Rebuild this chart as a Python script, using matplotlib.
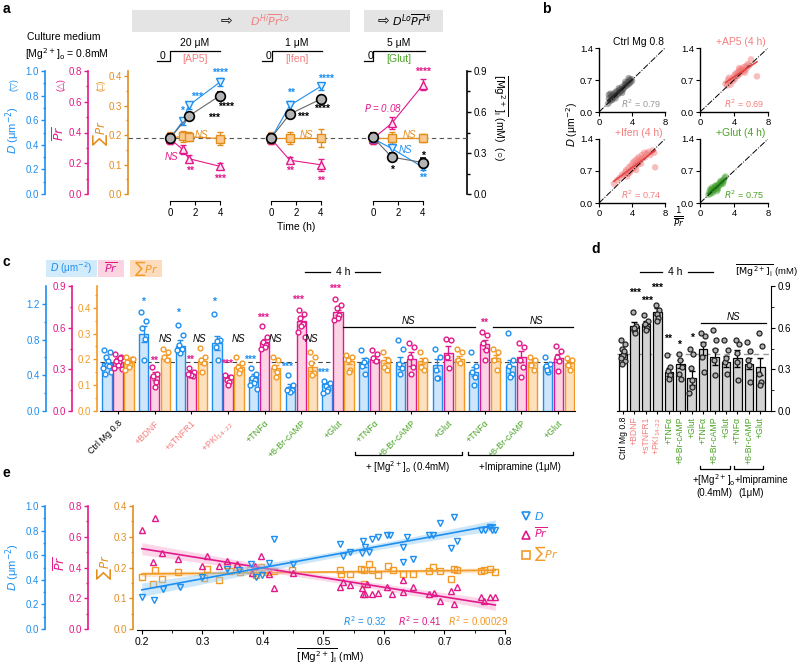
import numpy as np
import matplotlib
matplotlib.use('Agg')
import matplotlib.pyplot as plt
from matplotlib.lines import Line2D
from matplotlib.patches import Rectangle

plt.rcParams['font.family'] = ['Liberation Sans', 'DejaVu Sans']
plt.rcParams['mathtext.fontset'] = 'dejavusans'

W, H = 800, 666
BLUE = '#1e8ff0'
MAG = '#e2198a'
ORA = '#e38d1c'
ORA_C = '#f39a26'
SALMON = '#f47f7f'
GREEN = '#4aa325'

# ---------------- panel a data ----------------
ap5_t = [0, 1, 1.5, 4]
ap5_D = [0.45, 0.59, 0.72, 0.91]
ap5_D_err = [0.03, 0.03, 0.03, 0.03]
ap5_Pr = [0.36, 0.29, 0.23, 0.18]
ap5_Pr_err = [0.035, 0.03, 0.025, 0.02]
ap5_S = [0.19, 0.195, 0.194, 0.188]
ap5_S_err = [0.02, 0.02, 0.015, 0.022]
ap5_Mg_t = [0, 1.5, 4]
ap5_Mg = [0.41, 0.57, 0.72]
ap5_Mg_err = [0.03, 0.02, 0.025]

t3 = [0, 1.5, 4]
ifen_D = [0.45, 0.72, 0.876]
ifen_D_err = [0.03, 0.04, 0.03]
ifen_Pr = [0.36, 0.22, 0.19]
ifen_Pr_err = [0.035, 0.02, 0.04]
ifen_S = [0.19, 0.19, 0.19]
ifen_S_err = [0.02, 0.02, 0.03]
ifen_Mg = [0.41, 0.585, 0.695]
ifen_Mg_err = [0.03, 0.025, 0.025]

glut_D = [0.45, 0.37, 0.217]
glut_D_err = [0.03, 0.04, 0.02]
glut_Pr = [0.36, 0.46, 0.71]
glut_Pr_err = [0.035, 0.04, 0.035]
glut_S = [0.19, 0.19, 0.19]
glut_S_err = [0.02, 0.02, 0.015]
glut_Mg = [0.415, 0.27, 0.23]
glut_Mg_err = [0.03, 0.03, 0.03]

# ---------------- panel b data ----------------
ctrl_x = [1.1, 1.2, 1.3, 1.4, 1.5, 1.5, 1.6, 1.7, 1.8, 1.9, 2.0, 2.1, 2.2, 2.3, 2.4, 2.5, 2.6, 2.7, 2.8,
          2.9, 3.0, 3.1, 3.2, 3.3, 3.4, 3.5, 3.6, 3.7, 3.8, 3.9, 1.2, 1.6, 2.0, 2.4, 2.8, 3.2, 3.6, 4.0]
ctrl_y = [0.18, 0.30, 0.24, 0.40, 0.28, 0.35, 0.31, 0.38, 0.33, 0.42, 0.36, 0.45, 0.40, 0.38, 0.47, 0.43,
          0.50, 0.46, 0.55, 0.49, 0.52, 0.60, 0.56, 0.62, 0.58, 0.66, 0.61, 0.70, 0.64, 0.72, 0.38, 0.26,
          0.30, 0.52, 0.42, 0.66, 0.74, 0.68]
ap5b_x = [3.0, 3.2, 3.3, 3.5, 3.6, 3.8, 3.9, 4.0, 4.1, 4.2, 4.3, 4.4, 4.5, 4.6, 4.7, 4.8, 4.9, 5.0, 5.1,
          5.2, 5.4, 5.5, 5.6, 5.8, 6.0, 6.7, 3.4, 4.6, 5.3]
ap5b_y = [0.62, 0.58, 0.70, 0.66, 0.60, 0.74, 0.68, 0.80, 0.72, 0.84, 0.78, 0.86, 0.80, 0.90, 0.84, 0.94,
          0.88, 0.92, 0.98, 0.90, 1.00, 0.95, 1.05, 1.02, 1.15, 0.78, 0.75, 0.96, 0.86]
ifenb_x = [1.8, 2.2, 2.5, 2.8, 3.0, 3.2, 3.3, 3.5, 3.6, 3.8, 3.9, 4.0, 4.1, 4.2, 4.3, 4.4, 4.5, 4.6, 4.7,
           4.8, 4.9, 5.0, 5.2, 5.3, 5.5, 5.6, 5.8, 6.0, 6.2, 6.5, 6.7, 6.8, 3.4, 3.7, 4.5, 5.1]
ifenb_y = [0.42, 0.50, 0.55, 0.62, 0.60, 0.68, 0.72, 0.64, 0.78, 0.70, 0.82, 0.74, 0.88, 0.76, 0.92, 0.80,
           0.86, 0.96, 0.84, 1.00, 0.90, 0.94, 1.05, 0.98, 1.10, 1.00, 1.08, 1.12, 1.05, 1.15, 1.10, 0.78,
           0.58, 0.66, 0.72, 0.86]
glutb_x = [1.0, 1.1, 1.2, 1.3, 1.4, 1.5, 1.6, 1.7, 1.8, 1.9, 2.0, 2.1, 2.2, 2.3, 2.4, 2.5, 2.6, 2.7, 2.8,
           2.9, 1.2, 1.5, 1.8, 2.1, 2.4, 2.7, 3.0, 1.4, 2.0]
glutb_y = [0.18, 0.24, 0.20, 0.28, 0.25, 0.30, 0.27, 0.34, 0.30, 0.37, 0.33, 0.40, 0.36, 0.43, 0.40, 0.46,
           0.44, 0.50, 0.48, 0.55, 0.30, 0.22, 0.38, 0.30, 0.48, 0.42, 0.58, 0.34, 0.26]

# ---------------- panel c data ----------------
c_labels = ['Ctrl Mg 0.8', '+BDNF', '+sTNFR1', '+PKI$_{14\u201022}$', '+TNF\u03b1', '+8-Br-cAMP', '+Glut',
            '+TNF\u03b1', '+8-Br-cAMP', '+Glut', '+TNF\u03b1', '+8-Br-cAMP', '+Glut']
c_colors = ['black', SALMON, SALMON, SALMON] + [GREEN] * 9
c_D = [0.54, 0.86, 0.73, 0.76, 0.38, 0.27, 0.30, 0.54, 0.54, 0.515, 0.44, 0.50, 0.50]
c_D_err = [0.03, 0.09, 0.06, 0.08, 0.03, 0.03, 0.02, 0.05, 0.07, 0.07, 0.05, 0.07, 0.03]
c_Pr = [0.35, 0.25, 0.27, 0.247, 0.50, 0.65, 0.71, 0.374, 0.374, 0.415, 0.48, 0.39, 0.38]
c_Pr_err = [0.015, 0.03, 0.015, 0.015, 0.02, 0.03, 0.02, 0.02, 0.05, 0.05, 0.03, 0.04, 0.03]
c_S = [0.189, 0.206, 0.195, 0.171, 0.165, 0.169, 0.195, 0.197, 0.195, 0.20, 0.204, 0.19, 0.184]
c_S_err = [0.008, 0.012, 0.012, 0.01, 0.012, 0.015, 0.012, 0.012, 0.012, 0.012, 0.012, 0.01, 0.01]
c_D_pts = [[0.68, 0.66, 0.60, 0.56, 0.52, 0.48, 0.44, 0.41, 0.50],
           [1.11, 1.01, 0.93, 0.81, 0.57],
           [0.96, 0.85, 0.74, 0.70, 0.65, 0.68],
           [1.09, 0.80, 0.72, 0.57, 0.78],
           [0.48, 0.42, 0.37, 0.35, 0.31, 0.29, 0.25],
           [0.40, 0.29, 0.25, 0.235, 0.216, 0.24],
           [0.336, 0.31, 0.28, 0.25, 0.227, 0.198],
           [0.68, 0.57, 0.50, 0.42, 0.55],
           [0.80, 0.70, 0.53, 0.48, 0.42],
           [0.70, 0.61, 0.46, 0.37, 0.37],
           [0.66, 0.50, 0.44, 0.38, 0.29],
           [0.87, 0.57, 0.50, 0.42, 0.38],
           [0.61, 0.53, 0.50, 0.44, 0.46]]
c_Pr_pts = [[0.41, 0.39, 0.37, 0.35, 0.33, 0.31, 0.30, 0.36, 0.38],
            [0.32, 0.27, 0.25, 0.21, 0.175],
            [0.31, 0.28, 0.26, 0.25, 0.26, 0.27],
            [0.26, 0.245, 0.22, 0.21, 0.19],
            [0.61, 0.535, 0.50, 0.475, 0.46, 0.45],
            [0.73, 0.70, 0.67, 0.63, 0.61, 0.57, 0.535],
            [0.81, 0.76, 0.74, 0.69, 0.67, 0.655],
            [0.44, 0.41, 0.38, 0.36],
            [0.49, 0.46, 0.39, 0.32, 0.27],
            [0.52, 0.51, 0.39, 0.31],
            [0.57, 0.55, 0.49, 0.44, 0.37],
            [0.49, 0.46, 0.37, 0.32, 0.245],
            [0.47, 0.43, 0.39, 0.36, 0.29]]
c_S_pts = [[0.21, 0.20, 0.19, 0.18, 0.17, 0.16, 0.20, 0.19],
           [0.24, 0.23, 0.21, 0.197],
           [0.243, 0.208, 0.197, 0.185, 0.152],
           [0.21, 0.185, 0.172, 0.159, 0.146],
           [0.21, 0.197, 0.172, 0.152, 0.133],
           [0.227, 0.21, 0.185, 0.146, 0.139],
           [0.217, 0.21, 0.197, 0.159, 0.152],
           [0.23, 0.197, 0.172, 0.159],
           [0.227, 0.197, 0.172, 0.159],
           [0.24, 0.227, 0.197, 0.185],
           [0.24, 0.227, 0.197, 0.159],
           [0.21, 0.197, 0.178, 0.159],
           [0.204, 0.197, 0.178, 0.159]]

# ---------------- panel d data ----------------
d_labels = ['Ctrl Mg 0.8', '+BDNF', '+sTNFR1', '+PKI$_{14\u201022}$', '+TNF\u03b1', '+8-Br-cAMP', '+Glut',
            '+TNF\u03b1', '+8-Br-cAMP', '+Glut', '+TNF\u03b1', '+8-Br-cAMP', '+Glut']
d_Mg = [0.41, 0.61, 0.625, 0.716, 0.28, 0.34, 0.24, 0.45, 0.39, 0.355, 0.38, 0.34, 0.32]
d_Mg_err = [0.02, 0.03, 0.02, 0.025, 0.03, 0.03, 0.05, 0.05, 0.06, 0.04, 0.06, 0.04, 0.06]
d_pts = [[0.51, 0.48, 0.45, 0.42, 0.40, 0.38, 0.36, 0.34, 0.43],
         [0.716, 0.61, 0.58, 0.56, 0.60],
         [0.69, 0.65, 0.63, 0.60, 0.58],
         [0.76, 0.73, 0.70, 0.67, 0.65],
         [0.40, 0.32, 0.29, 0.26, 0.23],
         [0.41, 0.32, 0.27, 0.23, 0.37],
         [0.45, 0.41, 0.31, 0.22, 0.17, 0.13],
         [0.56, 0.54, 0.39, 0.28, 0.48],
         [0.58, 0.51, 0.37, 0.26, 0.44],
         [0.51, 0.44, 0.35, 0.27, 0.38],
         [0.51, 0.48, 0.35, 0.22, 0.42],
         [0.50, 0.43, 0.37, 0.21, 0.33],
         [0.56, 0.47, 0.27, 0.21, 0.19]]

# ---------------- panel e data ----------------
e_D_x = [0.20, 0.22, 0.235, 0.263, 0.30, 0.34, 0.36, 0.38, 0.389, 0.398, 0.41, 0.419, 0.45, 0.528, 0.532,
         0.544, 0.564, 0.566, 0.568, 0.575, 0.58, 0.59, 0.605, 0.61, 0.632, 0.632, 0.638, 0.648, 0.674,
         0.681, 0.692, 0.711, 0.715, 0.72, 0.76, 0.767, 0.775, 0.778, 0.784]
e_D_y = [0.27, 0.24, 0.33, 0.35, 0.43, 0.49, 0.48, 0.535, 0.43, 0.44, 0.54, 0.73, 0.53, 0.69, 0.60, 0.63,
         0.62, 0.72, 0.67, 0.63, 0.73, 0.75, 0.77, 0.765, 0.67, 0.55, 0.75, 0.575, 0.765, 0.77, 0.86,
         0.665, 0.91, 0.72, 0.805, 0.81, 0.83, 0.81, 0.805]
e_Pr_x = [0.20, 0.222, 0.218, 0.233, 0.26, 0.307, 0.30, 0.327, 0.34, 0.357, 0.382, 0.387, 0.397, 0.41,
          0.419, 0.45, 0.528, 0.532, 0.544, 0.564, 0.565, 0.569, 0.572, 0.58, 0.59, 0.605, 0.613, 0.632,
          0.648, 0.632, 0.674, 0.682, 0.692, 0.711, 0.716, 0.72, 0.76, 0.766, 0.775, 0.784]
e_Pr_y = [0.644, 0.72, 0.44, 0.50, 0.46, 0.475, 0.41, 0.41, 0.445, 0.424, 0.37, 0.41, 0.48, 0.36, 0.27,
          0.37, 0.28, 0.31, 0.29, 0.27, 0.23, 0.23, 0.30, 0.23, 0.24, 0.28, 0.23, 0.32, 0.28, 0.244, 0.23,
          0.24, 0.19, 0.25, 0.17, 0.28, 0.21, 0.19, 0.21, 0.21]
e_S_x = [0.20, 0.218, 0.222, 0.233, 0.26, 0.303, 0.307, 0.327, 0.34, 0.346, 0.357, 0.362, 0.379, 0.384,
         0.389, 0.397, 0.401, 0.407, 0.419, 0.448, 0.527, 0.529, 0.544, 0.562, 0.567, 0.567, 0.575, 0.58,
         0.591, 0.606, 0.615, 0.632, 0.648, 0.674, 0.681, 0.692, 0.711, 0.716, 0.72, 0.76, 0.766, 0.775,
         0.784]
e_S_y = [0.171, 0.147, 0.192, 0.165, 0.187, 0.169, 0.198, 0.162, 0.209, 0.19, 0.203, 0.187, 0.192, 0.184,
         0.176, 0.203, 0.192, 0.187, 0.19, 0.195, 0.192, 0.182, 0.182, 0.198, 0.192, 0.149, 0.212, 0.192,
         0.176, 0.208, 0.192, 0.182, 0.18, 0.19, 0.203, 0.19, 0.165, 0.198, 0.192, 0.19, 0.192, 0.198, 0.187]


fig = plt.figure(figsize=(W / 100, H / 100), dpi=100)


def pax(x0, y0, x1, y1):
    # axes placed in pixel coords measured from the top-left corner
    return fig.add_axes([x0 / W, 1 - y1 / H, (x1 - x0) / W, (y1 - y0) / H])


def layer(rect, ylim, xlim):
    ax = pax(*rect)
    ax.set_xlim(*xlim)
    ax.set_ylim(*ylim)
    ax.axis('off')
    return ax


def yspine(x, y0, y1, top, ticks, color, minor=None, side='left', fmt='%.1f', size=7):
    ax = pax(x, y0, x + 1, y1) if side == 'left' else pax(x - 1, y0, x, y1)
    ax.set_ylim(0, top)
    ax.patch.set_visible(False)
    for s in ax.spines.values():
        s.set_visible(False)
    ax.spines[side].set_visible(True)
    ax.spines[side].set_color(color)
    ax.spines[side].set_linewidth(1.2)
    ax.set_xticks([])
    if side == 'right':
        ax.yaxis.tick_right()
    ax.set_yticks(ticks)
    ax.set_yticklabels([fmt % t for t in ticks])
    if minor is not None:
        ax.set_yticks(minor, minor=True)
    ax.tick_params(axis='y', which='both', colors=color, labelsize=size, length=3, width=1, pad=1.5)
    ax.tick_params(axis='y', which='minor', length=1.8)
    return ax


def txt(x, y, s, **kw):
    kw.setdefault('fontsize', 7)
    kw.setdefault('ha', 'center')
    kw.setdefault('va', 'center')
    return fig.text(x / W, 1 - y / H, s, **kw)


def line(xs, ys, **kw):
    kw.setdefault('color', 'black')
    kw.setdefault('lw', 0.9)
    fig.add_artist(Line2D([x / W for x in xs], [1 - y / H for y in ys], **kw))


def box(x0, y0, x1, y1, color):
    fig.add_artist(Rectangle((x0 / W, 1 - y1 / H), (x1 - x0) / W, (y1 - y0) / H,
                             facecolor=color, edgecolor='none', transform=fig.transFigure))


def bracket(x0, x1, y):
    line([x0, x0, x1, x1], [y - 3, y, y, y - 3], lw=0.9)


LBL_PR = r'$\overline{Pr}$'
LBL_S = r'$\sum\mathit{Pr}$'
LBL_D = r'$D$ (μm$^{-2}$)'

# ================= panel a =================
txt(6, 9, 'a', fontsize=10, weight='bold')
box(132, 10, 350, 32, '#e4e4e4')
box(364, 10, 443, 32, '#e4e4e4')
txt(226, 21, '\u21e8', fontsize=10)
txt(270, 20, r'$D^{Hi}\overline{Pr}^{Lo}$', fontsize=8, color=SALMON)
txt(383, 21, '\u21e8', fontsize=10)
txt(412, 20, r'$D^{Lo}\overline{Pr}^{Hi}$', fontsize=8)

txt(27, 37, 'Culture medium', fontsize=7.5, ha='left')
txt(25, 54, r'[Mg$^{2+}$]$_\mathrm{o}$ = 0.8mM', fontsize=7.5, ha='left')

yspine(45, 71, 194, 1.0, [0, 0.2, 0.4, 0.6, 0.8, 1.0], BLUE, minor=np.arange(0.1, 1, 0.2))
yspine(88, 71, 194, 0.8, [0, 0.2, 0.4, 0.6, 0.8], MAG, minor=np.arange(0.1, 0.8, 0.2))
yspine(128, 71, 194, 0.417, [0, 0.1, 0.2, 0.3, 0.4], ORA, minor=np.arange(0.05, 0.4, 0.1))
yspine(467, 71, 194, 0.9, [0, 0.3, 0.6, 0.9], 'black', minor=[0.15, 0.45, 0.75], side='right')
txt(14, 85, '(\u25bd)', rotation=90, color=BLUE, fontsize=6.5)
txt(61, 85, '(\u25b3)', rotation=90, color=MAG, fontsize=6.5)
txt(101, 85, '(\u25a1)', rotation=90, color=ORA, fontsize=6.5)
txt(13, 130, LBL_D, rotation=90, color=BLUE, fontsize=8)
txt(60, 133, LBL_PR, rotation=90, color=MAG, fontsize=9)
txt(100, 133, LBL_S, rotation=90, color=ORA, fontsize=8.5)
txt(500, 118, r'$\overline{[\mathrm{Mg}^{2+}]_\mathrm{i}}$ (mM)  (○)', rotation=270, fontsize=7.5)

bg = layer((128, 71, 467, 194), (0, 0.417), (0, 1))
bg.axhline(0.19, color='#555555', lw=0.8, dashes=(4, 3))

sty_S = dict(marker='s', ms=6, mfc='#f9c98f', mec=ORA, color=ORA, lw=0.9, capsize=2.5, elinewidth=1, mew=1)
sty_Pr = dict(marker='^', ms=6, mfc='#fde3ef', mec=MAG, color=MAG, lw=0.8, capsize=2.5, elinewidth=1, mew=1)
sty_D = dict(marker='v', ms=6, mfc='#dcefff', mec=BLUE, color=BLUE, lw=0.8, capsize=2.5, elinewidth=1, mew=1)
sty_M = dict(marker='o', ms=7, mfc='#b4b4b4', mec='black', color='#666666', lw=0.8, capsize=2.5,
             elinewidth=1, ecolor='black', mew=1.2)


def a_sub(x0, series):
    rect = (x0 - 8, 71, x0 + 58, 194)
    xl = (-0.64, 4.64)
    ax = pax(*rect)
    ax.set_xlim(*xl)
    ax.set_ylim(0, 1)
    ax.patch.set_visible(False)
    for s in ['left', 'right', 'top']:
        ax.spines[s].set_visible(False)
    ax.spines['bottom'].set_position(('outward', 5))
    ax.spines['bottom'].set_bounds(0, 4)
    ax.set_yticks([])
    ax.set_xticks([0, 2, 4])
    ax.tick_params(axis='x', labelsize=7, length=3, pad=2)
    for t, v, e, top, sty in series:
        lay = layer(rect, (0, top), xl)
        lay.errorbar(t, v, yerr=e, **sty)
    return ax


a_sub(170, [(ap5_t, ap5_S, ap5_S_err, 0.417, sty_S), (ap5_t, ap5_Pr, ap5_Pr_err, 0.8, sty_Pr),
            (ap5_t, ap5_D, ap5_D_err, 1.0, sty_D), (ap5_Mg_t, ap5_Mg, ap5_Mg_err, 0.9, sty_M)])
a_sub(271, [(t3, ifen_S, ifen_S_err, 0.417, sty_S), (t3, ifen_Pr, ifen_Pr_err, 0.8, sty_Pr),
            (t3, ifen_D, ifen_D_err, 1.0, sty_D), (t3, ifen_Mg, ifen_Mg_err, 0.9, sty_M)])
a_sub(373, [(t3, glut_S, glut_S_err, 0.417, sty_S), (t3, glut_Pr, glut_Pr_err, 0.8, sty_Pr),
            (t3, glut_D, glut_D_err, 1.0, sty_D), (t3, glut_Mg, glut_Mg_err, 0.9, sty_M)])
txt(296, 227, 'Time (h)', fontsize=7.5)

# drug steps
for xa, xb, xc, dose, drug, col in [(157, 170, 220, '20 μM', '[AP5]', SALMON),
                                    (262, 272, 322, '1 μM', '[Ifen]', SALMON),
                                    (364, 373, 425, '5 μM', '[Glut]', GREEN)]:
    line([xa, xb, xb, xc], [61, 61, 51, 51])
    txt(xa + 6, 56, '0', fontsize=7.5)
    txt((xb + xc) / 2, 43, dose, fontsize=7.5)
    txt((xb + xc) / 2, 59, drug, fontsize=7.5, color=col)

for x, y, s, c in [(220, 73, '****', BLUE), (197, 97, '***', BLUE), (182, 111, '*', BLUE),
                   (214, 118, '***', 'black'), (226, 107, '****', 'black'), (190, 171, '**', MAG),
                   (220, 179, '***', MAG),
                   (326, 79, '****', BLUE), (291, 93, '**', BLUE), (303, 117, '***', 'black'),
                   (322, 109, '****', 'black'), (290, 171, '**', MAG), (321, 181, '**', MAG),
                   (423, 72, '****', MAG), (392, 170, '*', 'black'), (423, 156, '*', 'black'),
                   (423, 178, '**', BLUE)]:
    txt(x, y, s, color=c, fontsize=7.5, weight='bold')
for x, y, s, c in [(201, 135, 'NS', ORA), (171, 157, 'NS', MAG), (306, 135, 'NS', ORA),
                   (409, 135, 'NS', ORA), (405, 150, 'NS', BLUE), (383, 108, r'$P$ = 0.08', MAG)]:
    txt(x, y, s, color=c, fontsize=7, style='italic')

# ================= panel b =================
txt(546, 9, 'b', fontsize=10, weight='bold')


def b_sub(rect, xs, ys, pcol, lcol, title, tcol, r2, r2col):
    ax = pax(*rect)
    ax.set_xlim(0, 8)
    ax.set_ylim(0, 1.4)
    for s in ['right', 'top']:
        ax.spines[s].set_visible(False)
    for s in ['left', 'bottom']:
        ax.spines[s].set_linewidth(1)
    ax.patch.set_visible(False)
    ax.set_xticks([0, 4, 8])
    ax.set_yticks([0, 0.7, 1.4])
    ax.set_yticklabels(['0.0', '0.7', '1.4'])
    ax.tick_params(labelsize=6.8, length=3, pad=1.2)
    ax.plot([0, 8], [0, 1.4], color='black', lw=0.7, ls='-.')
    ax.scatter(xs, ys, s=22, color=pcol, alpha=0.45, edgecolors='none')
    p = np.polyfit(xs, ys, 1)
    xx = np.array([min(xs), max(xs)])
    ax.plot(xx, np.polyval(p, xx), color=lcol, lw=1.2)
    ax.text(4.8, 1.42, title, color=tcol, fontsize=7.5, ha='center', va='bottom', clip_on=False)
    ax.text(7.6, 0.05, r'$R^2$ = ' + r2, color=r2col, fontsize=6.5, ha='right', va='bottom')
    return ax


b_sub((599, 48, 665, 112), ctrl_x, ctrl_y, '#444444', '#222222', 'Ctrl Mg 0.8', 'black', '0.79', '#999999')
b_sub((700, 48, 768, 112), ap5b_x, ap5b_y, '#f07070', '#e64545', '+AP5 (4 h)', SALMON, '0.69', SALMON)
b_sub((599, 139, 665, 203), ifenb_x, ifenb_y, '#f07070', '#e64545', '+Ifen (4 h)', SALMON, '0.74', SALMON)
b_sub((700, 139, 768, 203), glutb_x, glutb_y, '#3a9d25', '#1e6e1e', '+Glut (4 h)', GREEN, '0.75', GREEN)
txt(572, 125, LBL_D, rotation=90, fontsize=7.5)
txt(679, 218, r'$\frac{1}{\overline{Pr}}$', fontsize=9)

# ================= panel c =================
txt(6, 262, 'c', fontsize=10, weight='bold')
box(46, 260, 97, 277, '#d2ebfb')
box(98, 260, 124, 277, '#fcd3e1')
box(130, 260, 162, 277, '#fcdcbd')
txt(71, 268, LBL_D, color=BLUE, fontsize=7)
txt(111, 268, LBL_PR, color=MAG, fontsize=8)
txt(146, 268, LBL_S, color=ORA_C, fontsize=8)

yspine(46, 286, 411, 1.4, [0, 0.4, 0.8, 1.2], BLUE, minor=[0.2, 0.6, 1.0])
yspine(72, 286, 411, 0.9, [0, 0.3, 0.6, 0.9], MAG, minor=[0.15, 0.45, 0.75])
yspine(97, 286, 411, 0.484, [0, 0.1, 0.2, 0.3, 0.4], ORA_C, minor=np.arange(0.05, 0.46, 0.1))

c_rect = (100, 286, 575, 411)
c_xl = (-0.49, 12.46)
cx = np.arange(len(c_labels))
cax = pax(*c_rect)
cax.set_xlim(*c_xl)
cax.set_ylim(0, 1.4)
cax.patch.set_visible(False)
for s in ['left', 'right', 'top']:
    cax.spines[s].set_visible(False)
cax.set_yticks([])
cax.set_xticks(cx)
cax.set_xticklabels(c_labels, rotation=45, ha='right', rotation_mode='anchor', fontsize=6.5)
for lab, col in zip(cax.get_xticklabels(), c_colors):
    lab.set_color(col)
cax.tick_params(axis='x', length=2.5, pad=3)

c_bg = layer(c_rect, (0, 0.484), c_xl)
c_bg.axhline(0.189, color='#444444', lw=0.8, dashes=(4, 3))

jit = [-0.07, 0.07, -0.035, 0.035, 0.0, -0.1, 0.1, -0.05, 0.05]
for off, vals, errs, pts, top, edge, face in [
        (-0.3, c_D, c_D_err, c_D_pts, 1.4, BLUE, '#cfe6fa'),
        (0.0, c_Pr, c_Pr_err, c_Pr_pts, 0.9, MAG, '#fbd3e4'),
        (0.3, c_S, c_S_err, c_S_pts, 0.484, ORA_C, '#fde0bd')]:
    lay = layer(c_rect, (0, top), c_xl)
    lay.bar(cx + off, vals, width=0.25, color=face, edgecolor=edge, linewidth=1)
    lay.errorbar(cx + off, vals, yerr=errs, fmt='none', ecolor=edge, elinewidth=1, capsize=2)
    for i, pp in enumerate(pts):
        lay.scatter(cx[i] + off + np.array(jit[:len(pp)]), pp, s=12, facecolors='white',
                    edgecolors=edge, linewidths=1, zorder=3)

for x, y, s, c in [(143, 302, '*', BLUE), (154, 361, '**', MAG), (178, 313, '*', BLUE),
                   (190, 360, '**', MAG), (214, 302, '*', BLUE), (227, 364, '***', MAG),
                   (250, 360, '***', BLUE), (263, 318, '***', MAG), (287, 367, '***', BLUE),
                   (298, 300, '***', MAG), (323, 373, '***', BLUE), (335, 289, '***', MAG),
                   (484, 323, '**', MAG)]:
    txt(x, y, s, color=c, fontsize=7.5, weight='bold')
for x in [165, 199, 238, 275, 311]:
    txt(x, 339, 'NS', fontsize=7, style='italic')
line([343, 475], [327, 327])
line([493, 573], [327, 327])
txt(408, 321, 'NS', fontsize=7, style='italic')
txt(536, 321, 'NS', fontsize=7, style='italic')
line([305, 330], [272, 272])
line([355, 380], [272, 272])
txt(343, 272, '4 h', fontsize=7.5)
bracket(355, 462, 455)
bracket(468, 573, 455)
txt(408, 467, r'+ [Mg$^{2+}$]$_\mathrm{o}$ (0.4mM)', fontsize=7)
txt(520, 467, '+Imipramine (1μM)', fontsize=7)

# ================= panel d =================
txt(596, 249, 'd', fontsize=10, weight='bold')
d_rect = (617, 286, 771, 411)
dx = np.arange(len(d_labels))
dax = pax(*d_rect)
dax.set_xlim(-0.53, 12.94)
dax.set_ylim(0, 0.9)
dax.patch.set_visible(False)
for s in ['left', 'top']:
    dax.spines[s].set_visible(False)
dax.yaxis.tick_right()
dax.set_yticks([0, 0.3, 0.6, 0.9])
dax.set_yticklabels(['0.0', '0.3', '0.6', '0.9'])
dax.set_yticks([0.15, 0.45, 0.75], minor=True)
dax.tick_params(axis='y', which='both', labelsize=7, length=3, pad=1.5)
dax.tick_params(axis='y', which='minor', length=1.8)
dax.set_xticks(dx)
dax.set_xticklabels(d_labels, rotation=90, fontsize=6.2, va='top', ha='center')
for lab, col in zip(dax.get_xticklabels(), c_colors):
    lab.set_color(col)
dax.tick_params(axis='x', length=2, pad=2)
dax.axhline(0.41, color='#999999', lw=1, dashes=(4, 3), zorder=0)
d_face = ['white'] + ['#d3d3d3'] * 12
dax.bar(dx, d_Mg, width=0.75, color=d_face, edgecolor='black', linewidth=0.9)
dax.errorbar(dx, d_Mg, yerr=d_Mg_err, fmt='none', ecolor='black', elinewidth=0.9, capsize=2)
for i, pp in enumerate(d_pts):
    dax.scatter(dx[i] + np.array(jit[:len(pp)]) * 2, pp, s=13, facecolors='#b0b0b0',
                edgecolors='#222222', linewidths=0.9, zorder=3)
for x, y, s in [(635, 293, '***'), (647, 301, '***'), (657, 288, '***'), (668, 339, '**'),
                (679, 345, '*'), (692, 338, '*')]:
    txt(x, y, s, fontsize=7.5, weight='bold')
line([701, 766], [323, 323])
txt(733, 317, 'NS', fontsize=7, style='italic')
line([640, 662], [272, 272])
line([688, 713], [272, 272])
txt(675, 272, '4 h', fontsize=7.5)
txt(798, 271, r'$\overline{[\mathrm{Mg}^{2+}]_\mathrm{i}}$ (mM)', fontsize=6.8, ha='right')
bracket(700, 730, 469)
bracket(734, 763, 469)
txt(714, 480, r'+[Mg$^{2+}$]$_\mathrm{o}$', fontsize=7)
txt(714, 493, '(0.4mM)', fontsize=7)
txt(735, 480, '+Imipramine', fontsize=7, ha='left')
txt(738, 493, '(1μM)', fontsize=7, ha='left')

# ================= panel e =================
txt(6, 473, 'e', fontsize=10, weight='bold')
yspine(45, 506, 629, 1.0, [0, 0.2, 0.4, 0.6, 0.8, 1.0], BLUE, minor=np.arange(0.1, 1, 0.2))
yspine(88, 506, 629, 0.8, [0, 0.2, 0.4, 0.6, 0.8], MAG, minor=np.arange(0.1, 0.8, 0.2))
yspine(133, 506, 629, 0.4, [0, 0.1, 0.2, 0.3, 0.4], ORA, minor=np.arange(0.05, 0.4, 0.1))
txt(13, 567, LBL_D, rotation=90, color=BLUE, fontsize=8)
txt(61, 563, LBL_PR, rotation=90, color=MAG, fontsize=9)
txt(105, 567, LBL_S, rotation=90, color=ORA, fontsize=8.5)

e_rect = (137, 506, 505, 630)
e_xl = (0.192, 0.8)
eax = pax(*e_rect)
eax.set_xlim(*e_xl)
eax.set_ylim(0, 1)
eax.patch.set_visible(False)
for s in ['left', 'right', 'top']:
    eax.spines[s].set_visible(False)
eax.set_yticks([])
eax.set_xticks([0.2, 0.3, 0.4, 0.5, 0.6, 0.7, 0.8])
eax.set_xticks(np.arange(0.25, 0.8, 0.1), minor=True)
eax.tick_params(axis='x', which='both', labelsize=7.5, length=3, pad=2)
eax.tick_params(axis='x', which='minor', length=1.8)
txt(330, 656, r'$\overline{[\mathrm{Mg}^{2+}]_\mathrm{i}}$ (mM)', fontsize=7.5)


def fit_band(ax, xs, ys, col, band):
    xs = np.array(xs)
    ys = np.array(ys)
    p = np.polyfit(xs, ys, 1)
    n = len(xs)
    res = ys - np.polyval(p, xs)
    s = np.sqrt(np.sum(res ** 2) / (n - 2))
    xx = np.linspace(xs.min(), xs.max(), 50)
    se = s * np.sqrt(1 / n + (xx - xs.mean()) ** 2 / np.sum((xs - xs.mean()) ** 2))
    yy = np.polyval(p, xx)
    ax.fill_between(xx, yy - 2.02 * se, yy + 2.02 * se, color=band, alpha=0.45, lw=0)
    ax.plot(xx, yy, color=col, lw=1.2)


lay_S = layer(e_rect, (0, 0.4), e_xl)
lay_Pr = layer(e_rect, (0, 0.8), e_xl)
lay_D = layer(e_rect, (0, 1.0), e_xl)
fit_band(lay_S, e_S_x, e_S_y, ORA_C, '#f9c98a')
fit_band(lay_Pr, e_Pr_x, e_Pr_y, MAG, '#f7a8cf')
fit_band(lay_D, e_D_x, e_D_y, BLUE, '#8fcaf5')
lay_S.plot(e_S_x, e_S_y, ls='none', marker='s', ms=5, mfc='none', mec=ORA_C, mew=1)
lay_Pr.plot(e_Pr_x, e_Pr_y, ls='none', marker='^', ms=5, mfc='none', mec=MAG, mew=1)
lay_D.plot(e_D_x, e_D_y, ls='none', marker='v', ms=5, mfc='none', mec=BLUE, mew=1)

txt(343, 621, r'$R^2$ = 0.32', fontsize=7, color=BLUE, ha='left')
txt(398, 621, r'$R^2$ = 0.41', fontsize=7, color=MAG, ha='left')
txt(448, 621, r'$R^2$ = 0.00029', fontsize=7, color=ORA_C, ha='left')

handles = [Line2D([], [], ls='none', marker='v', ms=6, mfc='none', mec=BLUE, mew=1.2),
           Line2D([], [], ls='none', marker='^', ms=6, mfc='none', mec=MAG, mew=1.2),
           Line2D([], [], ls='none', marker='s', ms=6, mfc='none', mec=ORA_C, mew=1.2)]
fig.legend(handles, [r'$D$', LBL_PR, LBL_S], loc='upper left', bbox_to_anchor=(510 / W, 1 - 500 / H),
           frameon=False, fontsize=8, labelcolor=[BLUE, MAG, ORA_C], handletextpad=0.3,
           labelspacing=0.35, handlelength=1)

fig.savefig('out.png', dpi=100)
